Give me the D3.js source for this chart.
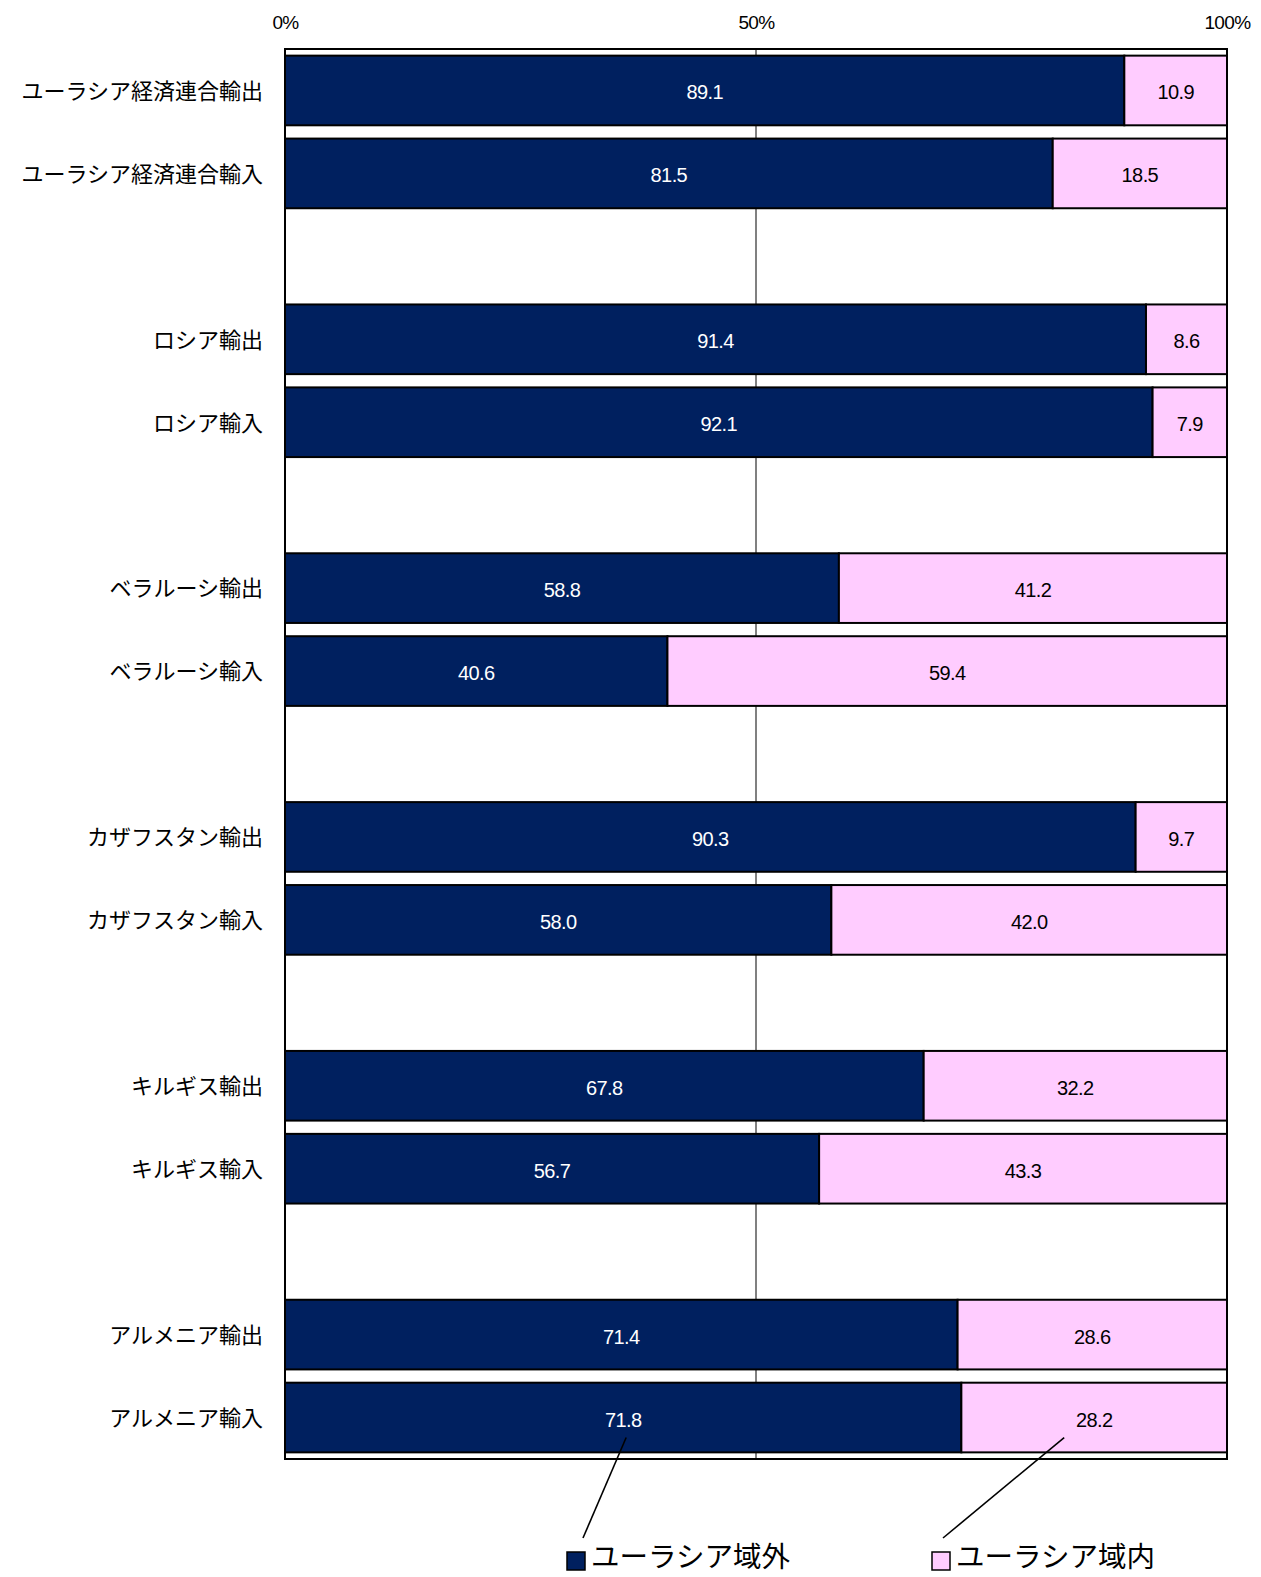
<!DOCTYPE html>
<html>
<head>
<meta charset="utf-8">
<script src="https://cdn.jsdelivr.net/npm/d3@7"></script>
<style>
  html, body { margin: 0; padding: 0; background: #fff; }
  svg { display: block; }
  .cat { font-family: "Noto Sans CJK JP", "Noto Sans", sans-serif; font-size: 22px; fill: #000; }
  .num { font-family: "Liberation Sans Narrow", "Liberation Sans", sans-serif; font-size: 20px; letter-spacing: -0.6px; }
  .tick text { font-family: "Liberation Sans Narrow", "Liberation Sans", sans-serif; font-size: 19px; fill: #000; letter-spacing: -0.6px; }
  .leg { font-family: "Noto Sans CJK JP", sans-serif; font-size: 28.5px; fill: #000; }
</style>
</head>
<body>
<script>
// Row labels; null marks a spacer row between country groups
const categories = [
  "ユーラシア経済連合輸出", "ユーラシア経済連合輸入", null,
  "ロシア輸出", "ロシア輸入", null,
  "ベラルーシ輸出", "ベラルーシ輸入", null,
  "カザフスタン輸出", "カザフスタン輸入", null,
  "キルギス輸出", "キルギス輸入", null,
  "アルメニア輸出", "アルメニア輸入"
];
// Share of trade outside the Eurasian Economic Union (%)
const outside = [89.1, 81.5, null, 91.4, 92.1, null, 58.8, 40.6, null, 90.3, 58.0, null, 67.8, 56.7, null, 71.4, 71.8];
// Share of trade within the Union (%)
const inside  = [10.9, 18.5, null, 8.6, 7.9, null, 41.2, 59.4, null, 9.7, 42.0, null, 32.2, 43.3, null, 28.6, 28.2];
const seriesNames = ["ユーラシア域外", "ユーラシア域内"];
const tickValues = [0, 50, 100];

const W = 1261, H = 1577;
const mLeft = 285, mRight = 1227, mTop = 49, mBottom = 1459;
const colors = ["#00205f", "#ffccff"];

const svg = d3.select("body").append("svg").attr("width", W).attr("height", H);

const x = d3.scaleLinear().domain([0, 100]).range([mLeft, mRight]);
const y = d3.scaleBand().domain(d3.range(categories.length)).range([mTop, mBottom])
  .paddingInner(0.16).paddingOuter(0.08);

// 50% gridline
svg.append("g").selectAll("line").data([50]).join("line")
  .attr("x1", d => x(d)).attr("x2", d => x(d))
  .attr("y1", mTop).attr("y2", mBottom)
  .attr("stroke", "#808080").attr("stroke-width", 2);

// Top axis labels only
const axis = d3.axisTop(x).tickValues(tickValues).tickFormat(d => d + "%").tickSize(0).tickPadding(0);
const ax = svg.append("g").attr("transform", `translate(0,${mTop - 20})`).call(axis);
ax.select(".domain").remove();
ax.selectAll(".tick text").attr("dy", "0");

// Stacked rows
const rows = d3.range(categories.length).filter(i => categories[i] !== null).map(i => ({
  i, name: categories[i], segs: [
    { s: 0, x0: 0, x1: outside[i], v: outside[i] },
    { s: 1, x0: outside[i], x1: outside[i] + inside[i], v: inside[i] }
  ]
}));

const g = svg.append("g");
const row = g.selectAll("g.row").data(rows).join("g").attr("class", "row");

row.selectAll("rect").data(d => d.segs.map(s => ({ ...s, i: d.i }))).join("rect")
  .attr("x", d => x(d.x0))
  .attr("y", d => y(d.i))
  .attr("width", d => x(d.x1) - x(d.x0))
  .attr("height", y.bandwidth())
  .attr("fill", d => colors[d.s])
  .attr("stroke", "#000").attr("stroke-width", 2);

row.selectAll("text.num").data(d => d.segs.map(s => ({ ...s, i: d.i }))).join("text")
  .attr("class", "num")
  .attr("x", d => (x(d.x0) + x(d.x1)) / 2)
  .attr("y", d => y(d.i) + y.bandwidth() / 2)
  .attr("dy", "0.45em")
  .attr("text-anchor", "middle")
  .attr("fill", d => d.s === 0 ? "#fff" : "#000")
  .text(d => d.v.toFixed(1));

row.append("text").attr("class", "cat")
  .attr("x", 263)
  .attr("y", d => y(d.i) + y.bandwidth() / 2)
  .attr("dy", "0.38em")
  .attr("text-anchor", "end")
  .text(d => d.name);

// Plot frame
svg.append("rect").attr("x", mLeft).attr("y", mTop)
  .attr("width", mRight - mLeft).attr("height", mBottom - mTop)
  .attr("fill", "none").attr("stroke", "#000").attr("stroke-width", 2);

// Legend, with leader lines running up to the value labels of the last row
const last = categories.length - 1;
const labelY = y(last) + y.bandwidth() / 2 + 20;
const legendItems = [
  { name: seriesNames[0], color: colors[0], sx: 567, lx: 583,
    tx: (x(0) + x(outside[last])) / 2 + 3 },
  { name: seriesNames[1], color: colors[1], sx: 932, lx: 943,
    tx: (x(outside[last]) + x(100)) / 2 - 30 }
];
const lg = svg.append("g");
lg.selectAll("line").data(legendItems).join("line")
  .attr("x1", d => d.lx).attr("y1", 1538)
  .attr("x2", d => d.tx).attr("y2", labelY)
  .attr("stroke", "#000").attr("stroke-width", 1.6);
lg.selectAll("rect").data(legendItems).join("rect")
  .attr("x", d => d.sx).attr("y", 1552).attr("width", 18).attr("height", 18)
  .attr("fill", d => d.color).attr("stroke", "#000").attr("stroke-width", 1.5);
lg.selectAll("text").data(legendItems).join("text").attr("class", "leg")
  .attr("x", d => d.sx + 24).attr("y", 1567)
  .text(d => d.name);
</script>
</body>
</html>
